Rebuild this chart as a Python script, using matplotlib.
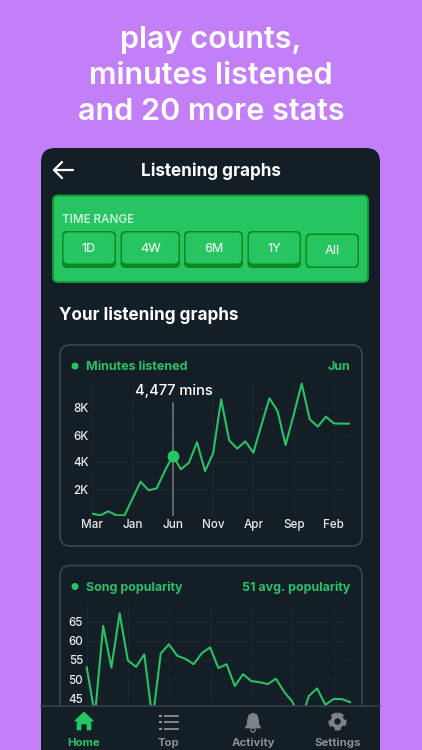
import matplotlib
matplotlib.use('Agg')
import matplotlib.pyplot as plt
from matplotlib.patches import FancyBboxPatch, Rectangle, Circle, Polygon

plt.rcParams['font.family'] = ['Inter', 'DejaVu Sans']

minutes = [170, 50, 350, 50, 50, 1300, 2540, 1900, 2050, 3330, 4477, 3460, 3950, 5460, 3330, 4640, 8640,
           5600, 4990, 5530, 4690, 6740, 8720, 7780, 5260, 7480, 9800, 7160, 6620, 7360, 6860, 6840, 6840]
popularity = [53.1, 40.5, 63.9, 53, 67.2, 54.9, 53.2, 56.5, 39.3, 56.7, 59.1, 56.1, 55.3, 53.9, 56.8, 58.3, 52.9,
              53.9, 48.2, 51.3, 49.5, 49.2, 48.7, 50.1, 46.7, 44.1, 39, 45.6, 47.6, 43.3, 44.8, 44.8, 44]
month_pos = [0, 5, 10, 15, 20, 25, 30]
month_labels = ['Mar', 'Jan', 'Jun', 'Nov', 'Apr', 'Sep', 'Feb']
min_ticks = [2000, 4000, 6000, 8000]
min_labels = ['2K', '4K', '6K', '8K']
pop_ticks = [45, 50, 55, 60, 65]
pop_labels = ['45', '50', '55', '60', '65']
selected = 10
ranges = ['1D', '4W', '6M', '1Y', 'All']
nav_labels = ['Home', 'Top', 'Activity', 'Settings']

PURPLE = '#C27FF7'
DARK = '#141E26'
GREEN = '#27C462'
LINE = '#2BC066'
BORDER = '#37444D'
GRID = '#1B262E'
W, H = 422, 750


def box(ax, x0, y0, x1, y1, r, fc, ec='none', lw=0, z=2):
    p = FancyBboxPatch((x0 + r, y0 + r), x1 - x0 - 2 * r, y1 - y0 - 2 * r,
                       boxstyle='round,pad=%f,rounding_size=%f' % (r, r),
                       fc=fc, ec=ec, lw=lw, zorder=z)
    ax.add_patch(p)


def px_axes(l, t, r, b, z):
    a = fig.add_axes([l / W, 1 - b / H, (r - l) / W, (b - t) / H], zorder=z)
    a.patch.set_alpha(0)
    for s in a.spines.values():
        s.set_visible(False)
    a.grid(True, color=GRID, lw=0.7)
    a.set_axisbelow(True)
    a.tick_params(length=0, colors='#E8ECEE', labelsize=8.4, pad=2.5)
    return a


fig = plt.figure(figsize=(W / 100, H / 100), dpi=100, facecolor=PURPLE)

# page in pixel coords
bg = fig.add_axes([0, 0, 1, 1], zorder=0)
bg.set_xlim(0, W)
bg.set_ylim(H, 0)
bg.axis('off')

bg.text(211, 39.5, 'play counts,', color='white', fontsize=22, fontweight='semibold', ha='center', va='center')
bg.text(211, 76, 'minutes listened', color='white', fontsize=22, fontweight='semibold', ha='center', va='center')
bg.text(211, 112, 'and 20 more stats', color='white', fontsize=22, fontweight='semibold', ha='center', va='center')

box(bg, 41, 148, 380, 790, 14, DARK)
bg.plot([54, 73], [170, 170], color='white', lw=1.6, solid_capstyle='round', zorder=3)
bg.plot([62, 54, 62], [162, 170, 178], color='white', lw=1.6, solid_capstyle='round', zorder=3)
bg.text(210.5, 171, 'Listening graphs', color='white', fontsize=12.3, fontweight='bold', ha='center', va='center', zorder=3)

# time range panel
box(bg, 53, 195.5, 368, 282, 5, GREEN, '#0F9A35', 1.4)
bg.text(62, 220, 'TIME RANGE', color='#C9F3D6', fontsize=8.3, fontweight='semibold', va='center', zorder=3)
btn_x = [(62, 116), (120.5, 180), (184, 243), (247.5, 301), (305.5, 359)]
for i, (x0, x1) in enumerate(btn_x):
    flat = ranges[i] == 'All'
    y0 = 233.5 if flat else 231
    y1 = 268
    box(bg, x0, y0, x1, y1, 5, '#0B8A1F', z=3)
    box(bg, x0 + 1.5, y0 + 1.5, x1 - 1.5, y1 - (1.5 if flat else 4.5), 4.5, GREEN, z=4)
    bg.text((x0 + x1) / 2, 251.5 if flat else 249, ranges[i], color='#E6F9EC', fontsize=9, fontweight='medium', ha='center', va='center', zorder=5)

bg.text(59, 315, 'Your listening graphs', color='white', fontsize=12.3, fontweight='bold', va='center', zorder=3)

# cards
box(bg, 60, 345, 362, 546, 10, DARK, BORDER, 1.3)
box(bg, 60, 565.5, 362, 790, 10, DARK, BORDER, 1.3)
bg.add_patch(Circle((75, 366), 3.5, fc=GREEN, zorder=3))
bg.text(86, 366.5, 'Minutes listened', color=LINE, fontsize=9, fontweight='bold', va='center', zorder=3)
bg.text(350, 367.5, 'Jun', color=LINE, fontsize=9, fontweight='bold', ha='right', va='center', zorder=3)
bg.add_patch(Circle((75, 586.5), 3.5, fc=GREEN, zorder=3))
bg.text(86, 587.5, 'Song popularity', color=LINE, fontsize=9, fontweight='bold', va='center', zorder=3)
bg.text(350, 588, '51 avg. popularity', color=LINE, fontsize=9, fontweight='bold', ha='right', va='center', zorder=3)

# minutes chart
ax1 = px_axes(92.3, 382, 350, 516, 2)
ax1.plot(minutes, color=LINE, lw=1.5)
ax1.set_xlim(0, len(minutes) - 1)
ax1.set_ylim(0, 134 / 27 * 2000)
ax1.set_xticks(month_pos, month_labels, fontweight='medium')
ax1.set_yticks(min_ticks, min_labels, fontweight='medium')
ax1.plot([selected, selected], [0, 8370], color='#6C757B', lw=1.2)
ax1.plot(selected, minutes[selected], 'o', color=GREEN, ms=7.5, zorder=5)
ax1.text(selected + 0.1, 9260, '{:,} mins'.format(minutes[selected]), color='white', fontsize=10.6, fontweight='medium', ha='center', va='center', clip_on=False)

# popularity chart, bottom runs under the nav bar
ax2 = px_axes(86.7, 605, 350, 705, 2)
ax2.plot(popularity, color=LINE, lw=1.5, clip_on=False)
ax2.set_xlim(0, len(popularity) - 1)
ax2.set_ylim(45 - (705 - 698.3) / 3.83, 65 + (621.7 - 605) / 3.83)
ax2.set_xticks(month_pos)
ax2.set_xticklabels([])
ax2.set_yticks(pop_ticks, pop_labels, fontweight='medium')

# nav bar on top
nav = fig.add_axes([0, 0, 1, 1], zorder=5)
nav.set_xlim(0, W)
nav.set_ylim(H, 0)
nav.axis('off')
nav.patch.set_alpha(0)
nav.add_patch(Rectangle((41, 706), 339, 44, fc=DARK, ec='none'))
nav.plot([41, 380], [706, 706], color=BORDER, lw=1.1)

nav_x = [84, 168.5, 253, 337.5]
nav_col = [LINE, '#8A8F93', '#8A8F93', '#8A8F93']
for i in range(4):
    nav.text(nav_x[i], 743, nav_labels[i], color=nav_col[i], fontsize=8.2, fontweight='bold', ha='center', va='center')

# home icon
nav.add_patch(Polygon([(84, 712), (93.5, 721), (91, 721), (91, 730), (87, 730), (87, 724), (81, 724), (81, 730),
                       (77, 730), (77, 721), (74.5, 721)], fc=GREEN, ec=GREEN, lw=0.5, joinstyle='round'))
# list icon
for y in [715.5, 722, 728.5]:
    nav.plot([160, 161], [y, y], color='#8A8F93', lw=1.5)
    nav.plot([164.5, 177.5], [y, y], color='#8A8F93', lw=1.3)
# bell icon
nav.add_patch(Polygon([(253, 713), (257, 715), (258.5, 720), (259, 725), (261, 728), (245, 728), (247, 725),
                       (247.5, 720), (249, 715)], fc='#7E8386', ec='#7E8386', lw=0.5, joinstyle='round'))
nav.add_patch(Circle((253, 730), 2.2, fc='none', ec='#7E8386', lw=0.9))
# gear icon
nav.add_patch(Circle((337.5, 721.5), 7.2, fc='none', ec='#7E8386', lw=2.6, ls=(0, (1.6, 1.1))))
nav.add_patch(Circle((337.5, 721.5), 7, fc='#7E8386', ec='none'))
nav.add_patch(Circle((337.5, 721.5), 3.2, fc=DARK, ec='none'))

fig.savefig('out.png', dpi=100, facecolor=PURPLE)
